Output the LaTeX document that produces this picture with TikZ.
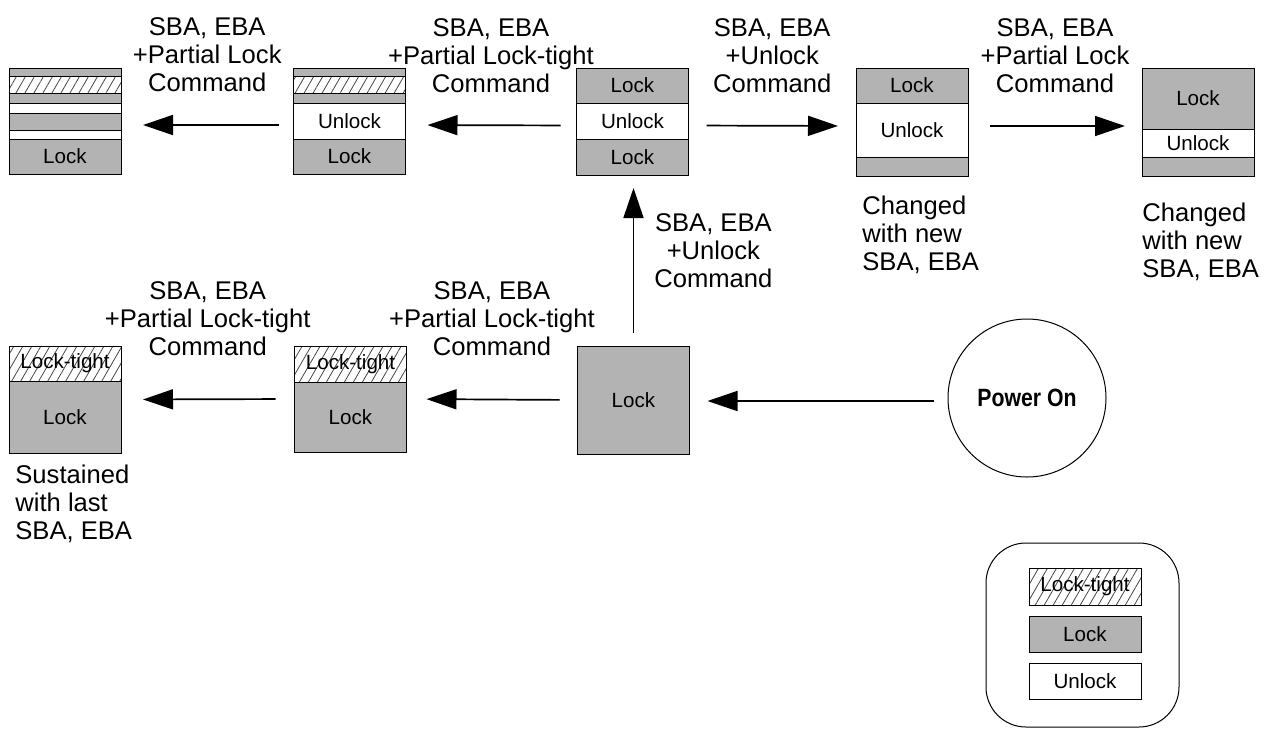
\documentclass[tikz,border=0pt]{standalone}
\usepackage{fontspec}
\setmainfont{Liberation Sans}
\usepackage{xcolor}
\usepackage{tikz}
\usetikzlibrary{arrows.meta,positioning,fit,patterns.meta}
\definecolor{lockgray}{RGB}{179,179,179}
\definecolor{hatchgray}{RGB}{70,70,70}
\newcommand{\lblfont}{\fontsize{12.8}{14}\selectfont}
\newcommand{\boxfont}{\fontsize{10.3}{12}\selectfont}

\begin{document}
\begin{tikzpicture}[
    x=0.5pt, y=-0.5pt,
    strip/.style={draw, line width=0.5pt, minimum width=56pt, inner sep=0, outer sep=0, font=\boxfont},
    lockbox/.style={strip, fill=lockgray},
    openbox/.style={strip, fill=white},
    tightbox/.style={strip, pattern={Lines[angle=60, distance=3.9pt, line width=0.4pt]}, pattern color=hatchgray},
    block/.style={inner sep=0, outer sep=0},
    cmd/.style={-{Triangle[length=15pt, width=10pt]}, line width=0.85pt, shorten <=8pt, shorten >=10pt},
    cmdlabel/.style={align=center, font=\lblfont, inner sep=0},
    note/.style={align=left, font=\lblfont, inner sep=0},
    power/.style={draw, circle, line width=0.5pt, minimum size=79pt, inner sep=0, font=\bfseries\fontsize{12.5}{14}\selectfont},
    legend/.style={draw, rounded corners=20pt, line width=0.5pt, minimum width=96.5pt, minimum height=92pt}]
\useasboundingbox (0,0) rectangle (1271,729);

\node[lockbox, minimum height=4pt, anchor=north] (t1a) at (65,68) {};
\node[tightbox, minimum height=8.5pt, below=0pt of t1a] (t1b) {};
\node[lockbox, minimum height=5pt, below=0pt of t1b] (t1c) {};
\node[openbox, minimum height=5pt, below=0pt of t1c] (t1d) {};
\node[lockbox, minimum height=8.5pt, below=0pt of t1d] (t1e) {};
\node[openbox, minimum height=4.5pt, below=0pt of t1e] (t1f) {};
\node[lockbox, minimum height=17.5pt, below=0pt of t1f] (t1g) {Lock};
\node[block, fit=(t1a)(t1g)] (t1) {};

\node[lockbox, minimum height=4pt, anchor=north] (t2a) at (349.5,68) {};
\node[tightbox, minimum height=8.5pt, below=0pt of t2a] (t2b) {};
\node[lockbox, minimum height=5pt, below=0pt of t2b] (t2c) {};
\node[openbox, minimum height=18pt, below=0pt of t2c] (t2d) {Unlock};
\node[lockbox, minimum height=17.5pt, below=0pt of t2d] (t2e) {Lock};
\node[block, fit=(t2a)(t2e)] (t2) {};

\node[lockbox, minimum height=17.5pt, anchor=north] (t3a) at (632.5,68) {Lock};
\node[openbox, minimum height=18pt, below=0pt of t3a] (t3b) {Unlock};
\node[lockbox, minimum height=18pt, below=0pt of t3b] (t3c) {Lock};
\node[block, fit=(t3a)(t3c)] (t3) {};

\node[lockbox, minimum height=17.5pt, anchor=north] (t4a) at (912,68) {Lock};
\node[openbox, minimum height=27pt, below=0pt of t4a] (t4b) {Unlock};
\node[lockbox, minimum height=9.5pt, below=0pt of t4b] (t4c) {};
\node[block, fit=(t4a)(t4c)] (t4) {};

\node[lockbox, minimum height=30.5pt, anchor=north] (t5a) at (1198,68) {Lock};
\node[openbox, minimum height=14pt, below=0pt of t5a] (t5b) {Unlock};
\node[lockbox, minimum height=9.5pt, below=0pt of t5b] (t5c) {};
\node[block, fit=(t5a)(t5c)] (t5) {};

\node[tightbox, minimum height=17.5pt, anchor=north] (b1a) at (65,346) {Lock-tight};
\node[lockbox, minimum height=36pt, below=0pt of b1a] (b1b) {Lock};
\node[block, fit=(b1a)(b1b)] (b1) {};

\node[tightbox, minimum height=18pt, anchor=north] (b2a) at (350.5,346) {Lock-tight};
\node[lockbox, minimum height=35pt, below=0pt of b2a] (b2b) {Lock};
\node[block, fit=(b2a)(b2b)] (b2) {};

\node[lockbox, minimum height=54pt, anchor=north] (b3) at (633.5,346) {Lock};

\node[power] (power) at (1027,398) {\scalebox{0.85}[1]{Power On}};

\node[note, below right=10pt and 3pt of t4.south west] (t4note) {Changed\\with new\\SBA, EBA};
\node[note, below right=13.5pt and 0pt of t5.south west] (t5note) {Changed\\with new\\SBA, EBA};
\node[note, below right=6pt and 3pt of b1.south west] (b1note) {Sustained\\with last\\SBA, EBA};

\draw[cmd, shorten <=7.5pt, shorten >=11pt] ([yshift=-2pt]t2.west) -- ([yshift=-2pt]t1.east)
    node[cmdlabel, midway, above=16pt] {SBA, EBA\\+Partial Lock\\Command};
\draw[cmd, shorten >=11pt] ([yshift=-2pt]t3.west) -- ([yshift=-2pt]t2.east)
    node[cmdlabel, midway, above=16pt] {SBA, EBA\\+Partial Lock-tight\\Command};
\draw[cmd, shorten <=9pt, shorten >=9pt] ([yshift=-2pt]t3.east) -- ([yshift=-2pt]t4.west)
    node[cmdlabel, midway, above=16pt] {SBA, EBA\\+Unlock\\Command};
\draw[cmd, shorten <=11pt, shorten >=8.5pt] ([yshift=-2pt]t4.east) -- ([yshift=-2pt]t5.west)
    node[cmdlabel, midway, above=16pt] {SBA, EBA\\+Partial Lock\\Command};

\draw[cmd, shorten <=9.5pt, shorten >=11pt] (b2.west) -- (b1.east)
    node[cmdlabel, midway, above=21.5pt] {SBA, EBA\\+Partial Lock-tight\\Command};
\draw[cmd, shorten <=9pt, shorten >=10pt] (b3.west) -- (b2.east)
    node[cmdlabel, midway, above=21.5pt] {SBA, EBA\\+Partial Lock-tight\\Command};
\draw[cmd, shorten <=7pt, shorten >=9pt] ([yshift=-1.5pt]power.west) -- ([yshift=-1.5pt]power.west -| b3.east);
\draw[cmd, shorten <=6.5pt, shorten >=6.5pt] (b3.north) -- (b3.north |- t3.south)
    node[cmdlabel, pos=.56, right=10pt] {SBA, EBA\\+Unlock\\Command};

\node[legend] (key) at (1082.5,635) {};
\node[tightbox, minimum height=18.5pt] (keytight) at (1085,586.5) {Lock-tight};
\node[lockbox, minimum height=18pt, below=5.5pt of keytight] (keylock) {Lock};
\node[openbox, minimum height=18pt, below=5.5pt of keylock] (keyopen) {Unlock};

\end{tikzpicture}
\end{document}
